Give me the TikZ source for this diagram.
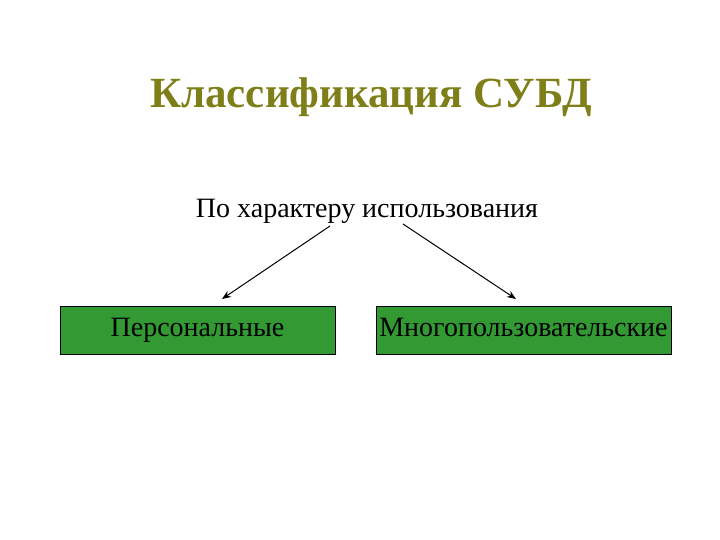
\documentclass[tikz,border=0pt]{standalone}
\usepackage{fontspec}
\setmainfont{Liberation Serif}
\definecolor{olivet}{HTML}{7F7F1A}
\definecolor{boxg}{HTML}{339933}
\tikzset{x=1pt,y=-1pt,
 catbox/.style={draw=black,line width=0.8pt,fill=boxg,minimum width=275pt,minimum height=48pt,inner sep=0pt,text height=19pt,text depth=6pt,font=\fontsize{28}{30}\selectfont},
 arr/.style={-{Stealth[length=9pt,width=7pt]},line width=1pt}}
\usetikzlibrary{arrows.meta}
\begin{document}
\begin{tikzpicture}
\useasboundingbox (0,0) rectangle (720,540);
\node[font=\fontsize{43}{46}\selectfont\bfseries,text=olivet] (title) at (371,97) {Классификация СУБД};
\node[font=\fontsize{28}{30}\selectfont] (sub) at (367,211) {По характеру использования};
\node[catbox] (p) at (197.5,330) {Персональные};
\node[catbox,minimum width=295pt] (m) at (523.5,330) {Многопользовательские};
\coordinate (s1) at (330,226);
\coordinate (s2) at (403,224);
\coordinate (e1) at (222,299);
\coordinate (e2) at (516,299);
\draw[arr] (s1) -- (e1);
\draw[arr] (s2) -- (e2);
\end{tikzpicture}
\end{document}
